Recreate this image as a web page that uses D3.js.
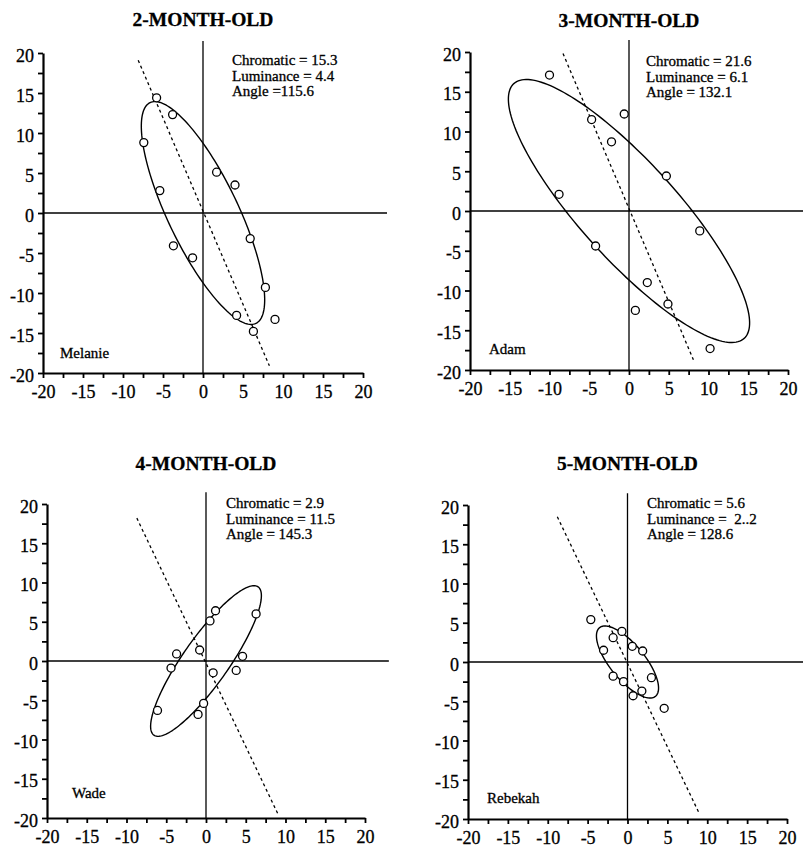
<!DOCTYPE html>
<html>
<head>
<meta charset="utf-8">
<script src="https://cdn.jsdelivr.net/npm/d3@7"></script>
<style>
  body { margin: 0; background: #fff; }
  svg { display: block; font-family: "Liberation Serif", "Times New Roman", serif; }
  text { white-space: pre; stroke: #000; stroke-width: 0.3px; }
</style>
</head>
<body>
<svg id="chart" width="803" height="847"></svg>
<script>
// values
const titles = ["2-MONTH-OLD", "3-MONTH-OLD", "4-MONTH-OLD", "5-MONTH-OLD"];
const names = ["Melanie", "Adam", "Wade", "Rebekah"];

const chromatic = [15.3, 21.6, 2.9, 5.6];
const luminance = [4.4, 6.1, 11.5, 2.2];
const angle = [115.6, 132.1, 145.3, 128.6];

// printed as in the original (spacing / typos kept)
const notes = [
  ["Chromatic = 15.3", "Luminance = 4.4", "Angle =115.6"],
  ["Chromatic = 21.6", "Luminance = 6.1", "Angle = 132.1"],
  ["Chromatic = 2.9", "Luminance = 11.5", "Angle = 145.3"],
  ["Chromatic = 5.6", "Luminance =  2..2", "Angle = 128.6"]
];

const melanie = [
  [-5.8, 14.4], [-3.8, 12.3], [-7.4, 8.8], [1.7, 5.1], [4.0, 3.5], [-5.4, 2.8], [5.9, -3.2],
  [-3.7, -4.1], [-1.3, -5.6], [7.8, -9.3], [4.2, -12.8], [9.0, -13.3], [6.3, -14.8]
];
const adam = [
  [-10.0, 17.1], [-4.7, 11.5], [-0.6, 12.2], [-2.2, 8.7], [4.7, 4.4], [-8.8, 2.1],
  [8.9, -2.5], [-4.2, -4.4], [2.3, -9.0], [4.9, -11.7], [0.8, -12.5], [10.2, -17.3]
];
const wade = [
  [6.3, 6.0], [1.2, 6.4], [0.5, 5.1], [-0.8, 1.4], [-3.7, 0.9], [4.6, 0.6],
  [-4.4, -0.9], [3.8, -1.2], [0.9, -1.5], [-0.3, -5.4], [-1.0, -6.8], [-6.1, -6.3]
];
const rebekah = [
  [-4.6, 5.4], [-0.7, 3.9], [-1.8, 3.1], [0.6, 2.0], [1.9, 1.4], [-3.0, 1.5],
  [-1.8, -1.8], [3.0, -2.0], [-0.5, -2.5], [1.8, -3.7], [0.7, -4.3], [4.6, -5.9]
];
const points = [melanie, adam, wade, rebekah];

// dashed reference line, end points in data units
const dashLines = [
  [[-8.1, 19.1], [8.3, -19.1]],
  [[-8.3, 19.8], [8.1, -18.7]],
  [[-8.7, 18.2], [9.1, -19.6]],
  [[-8.8, 18.5], [9.0, -19.3]]
];

const tickLabels = [-20, -15, -10, -5, 0, 5, 10, 15, 20];
const tickValues = [-20, -17.5, -15, -12.5, -10, -7.5, -5, -2.5, 0, 2.5, 5, 7.5, 10, 12.5, 15, 17.5, 20];

// layout
const frames = [
  { left: 43, right: 363, top: 53, bottom: 373, titleY: 26, noteX: 232, noteY: 65, nameX: 60, nameY: 358 },
  { left: 470, right: 788, top: 52, bottom: 370, titleY: 27, noteX: 646, noteY: 66, nameX: 489, nameY: 354 },
  { left: 47, right: 365, top: 504, bottom: 818, titleY: 470, noteX: 226, noteY: 508, nameX: 72, nameY: 798 },
  { left: 468, right: 787, top: 505, bottom: 819, titleY: 470, noteX: 647, noteY: 508, nameX: 487, nameY: 803 }
];

const svg = d3.select("#chart");
const fmt = d => (tickLabels.includes(d) ? d : "");

const ellipsePoints = (a, b, deg) => {
  const th = (deg * Math.PI) / 180;
  return d3.range(0, 2 * Math.PI, Math.PI / 90).map(t => {
    const u = a * Math.cos(t);
    const v = b * Math.sin(t);
    return [u * Math.cos(th) - v * Math.sin(th), u * Math.sin(th) + v * Math.cos(th)];
  });
};

frames.forEach((f, i) => {
  const x = d3.scaleLinear().domain([-20, 20]).range([f.left, f.right]);
  const y = d3.scaleLinear().domain([-20, 20]).range([f.bottom, f.top]);
  const line = d3.line().x(d => x(d[0])).y(d => y(d[1]));
  const g = svg.append("g");

  // zero lines
  g.append("line")
    .attr("x1", x(-20)).attr("x2", x(23))
    .attr("y1", y(0)).attr("y2", y(0))
    .attr("stroke", "#000").attr("stroke-width", 1.3);
  g.append("line")
    .attr("x1", x(0)).attr("x2", x(0))
    .attr("y1", y(21.5)).attr("y2", y(-20))
    .attr("stroke", "#000").attr("stroke-width", 1.3);

  // dashed line
  g.append("path")
    .attr("d", line(dashLines[i]))
    .attr("fill", "none")
    .attr("stroke", "#000")
    .attr("stroke-width", 1.3)
    .attr("stroke-dasharray", "3,3");

  // ellipse
  g.append("path")
    .attr("d", line.curve(d3.curveLinearClosed)(ellipsePoints(chromatic[i], luminance[i], angle[i])))
    .attr("fill", "none")
    .attr("stroke", "#000")
    .attr("stroke-width", 1.4);

  // points
  g.selectAll("circle")
    .data(points[i])
    .enter()
    .append("circle")
    .attr("cx", d => x(d[0]))
    .attr("cy", d => y(d[1]))
    .attr("r", 4)
    .attr("fill", "#fff")
    .attr("stroke", "#000")
    .attr("stroke-width", 1.3);

  // axes
  const xAxis = g.append("g")
    .attr("transform", `translate(0,${f.bottom})`)
    .call(d3.axisBottom(x).tickValues(tickValues).tickFormat(fmt).tickSize(5).tickSizeOuter(0));
  const yAxis = g.append("g")
    .attr("transform", `translate(${f.left},0)`)
    .call(d3.axisLeft(y).tickValues(tickValues).tickFormat(fmt).tickSize(5).tickSizeOuter(0));

  [xAxis, yAxis].forEach(ax => {
    ax.attr("font-family", null).attr("font-size", 18);
    ax.select(".domain").attr("stroke-width", 2.2);
    ax.selectAll(".tick line").attr("stroke-width", 1.8);
    ax.selectAll("text").attr("fill", "#000");
  });
  xAxis.selectAll("text").attr("y", 25).attr("dy", null);
  yAxis.selectAll("text").attr("x", -9).attr("dy", 8);

  // title
  g.append("text")
    .attr("x", x(0))
    .attr("y", f.titleY)
    .attr("text-anchor", "middle")
    .attr("font-size", 19.5)
    .attr("font-weight", "bold")
    .text(titles[i]);

  // stats
  g.append("g")
    .selectAll("text")
    .data(notes[i])
    .enter()
    .append("text")
    .attr("x", f.noteX)
    .attr("y", (d, k) => f.noteY + k * 15.5)
    .attr("font-size", 15)
    .text(d => d);

  // infant name
  g.append("text")
    .attr("x", f.nameX)
    .attr("y", f.nameY)
    .attr("font-size", 15)
    .text(names[i]);
});
</script>
</body>
</html>
